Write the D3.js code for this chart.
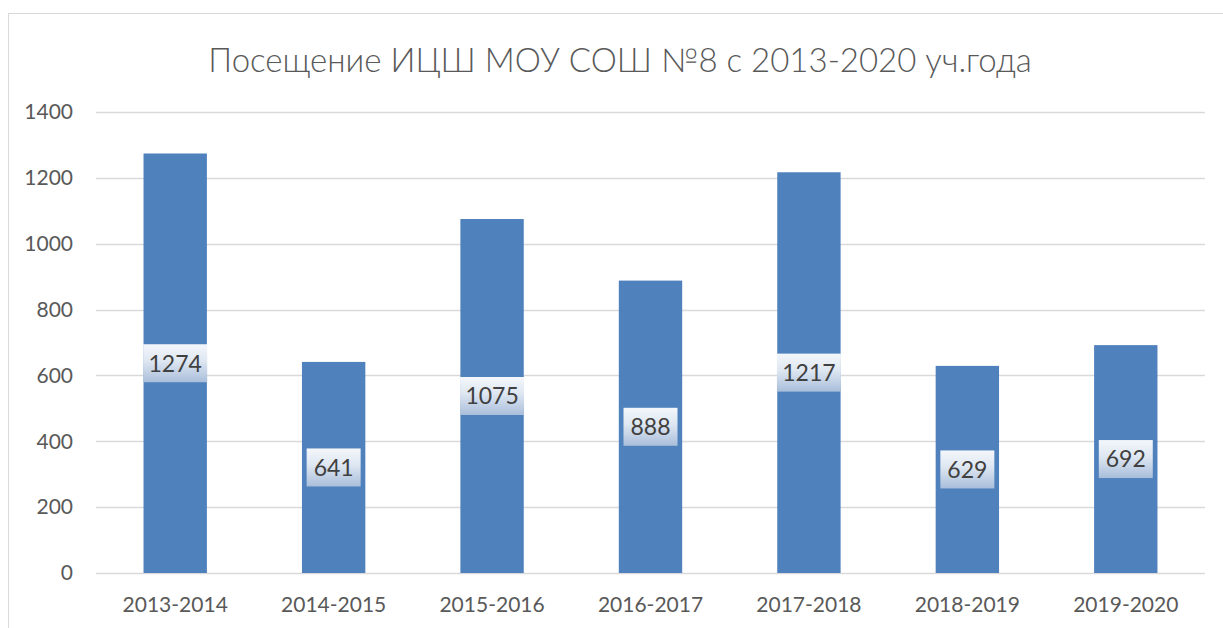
<!DOCTYPE html>
<html>
<head>
<meta charset="utf-8">
<script src="https://cdn.jsdelivr.net/npm/d3@7"></script>
<style>
  body { margin: 0; background: #fff; }
  text { font-family: Lato, "Open Sans", sans-serif; fill: #595959; }
</style>
</head>
<body>
<script>
// data
const years = ['2013-2014', '2014-2015', '2015-2016', '2016-2017', '2017-2018', '2018-2019', '2019-2020']
const visits = [1274, 641, 1075, 888, 1217, 629, 692]
const yTicks = [0, 200, 400, 600, 800, 1000, 1200, 1400]
const title = 'Посещение ИЦШ МОУ СОШ №8 с 2013-2020 уч.года'

const width = 1223, height = 628
const margin = {top: 112, right: 18, bottom: 55, left: 96}

const svg = d3.select('body').append('svg')
  .attr('width', width)
  .attr('height', height)

// chart frame
svg.append('rect')
  .attr('x', 8.5).attr('y', 13.5)
  .attr('width', 1240).attr('height', 640)
  .attr('fill', 'none')
  .attr('stroke', '#d9d9d9')

const defs = svg.append('defs')
const grad = defs.append('linearGradient')
  .attr('id', 'lbl').attr('x1', 0).attr('y1', 0).attr('x2', 0).attr('y2', 1)
grad.append('stop').attr('offset', '0%').attr('stop-color', '#f4f7fb')
grad.append('stop').attr('offset', '45%').attr('stop-color', '#dde6f1')
grad.append('stop').attr('offset', '100%').attr('stop-color', '#a9bedb')

const x = d3.scaleBand()
  .domain(years)
  .range([margin.left, width - margin.right])
  .paddingInner(0.6)
  .paddingOuter(0.3)

const y = d3.scaleLinear()
  .domain([0, 1400])
  .range([height - margin.bottom, margin.top])

// gridlines
svg.append('g')
  .selectAll('line')
  .data(yTicks)
  .enter()
  .append('line')
  .attr('x1', margin.left)
  .attr('x2', width - margin.right)
  .attr('y1', d => Math.round(y(d)) + 0.5)
  .attr('y2', d => Math.round(y(d)) + 0.5)
  .attr('stroke', '#d9d9d9')
  .attr('stroke-width', 1.5)

// y labels
svg.append('g')
  .selectAll('text')
  .data(yTicks)
  .enter()
  .append('text')
  .attr('x', 73)
  .attr('y', d => y(d))
  .attr('dy', '0.35em')
  .attr('text-anchor', 'end')
  .style('font-size', '21px')
  .text(d => d)

// x labels
svg.append('g')
  .selectAll('text')
  .data(years)
  .enter()
  .append('text')
  .attr('x', d => x(d) + x.bandwidth() / 2)
  .attr('y', 612)
  .attr('text-anchor', 'middle')
  .style('font-size', '21px')
  .text(d => d)

// bars
svg.append('g')
  .selectAll('rect')
  .data(years)
  .enter()
  .append('rect')
  .attr('x', d => x(d))
  .attr('y', (d, i) => y(visits[i]))
  .attr('width', x.bandwidth())
  .attr('height', (d, i) => y(0) - y(visits[i]))
  .attr('fill', '#4f81bd')

// value labels in the middle of each bar
const lbl = svg.append('g')
  .selectAll('g')
  .data(years)
  .enter()
  .append('g')
  .attr('transform', (d, i) => `translate(${x(d) + x.bandwidth() / 2}, ${y(visits[i] / 2)})`)

lbl.append('rect')
  .attr('x', (d, i) => visits[i] >= 1000 ? -32 : -27)
  .attr('y', -19)
  .attr('width', (d, i) => visits[i] >= 1000 ? 64 : 54)
  .attr('height', 38)
  .attr('fill', 'url(#lbl)')

lbl.append('text')
  .attr('text-anchor', 'middle')
  .attr('dy', '0.36em')
  .style('font-size', '23px')
  .style('fill', '#404040')
  .text((d, i) => visits[i])

// title
svg.append('text')
  .attr('x', 620)
  .attr('y', 72)
  .attr('text-anchor', 'middle')
  .style('font-size', '33px')
  .style('font-weight', 300)
  .text(title)
</script>
</body>
</html>
